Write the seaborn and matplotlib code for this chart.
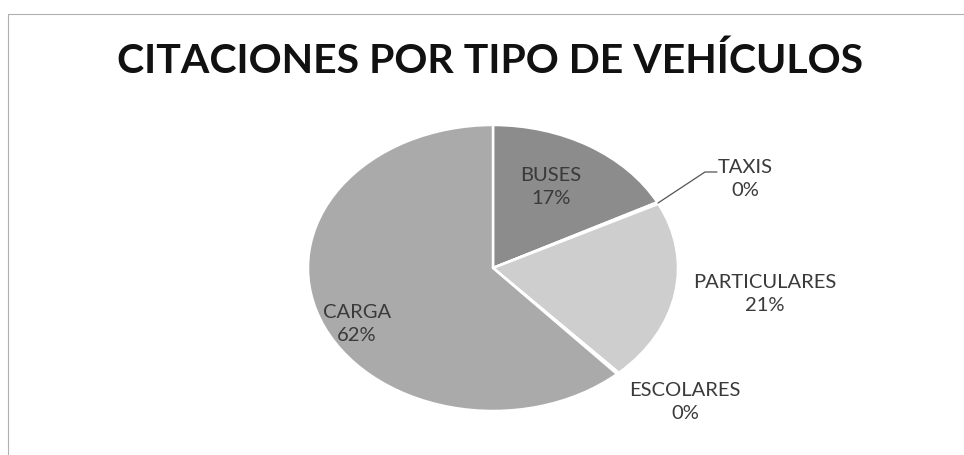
import matplotlib
matplotlib.use("Agg")
import matplotlib.pyplot as plt
import seaborn as sns

sns.set_theme(style="white")
plt.rcParams['font.family'] = ['Lato', 'DejaVu Sans']

categories = ["BUSES", "TAXIS", "PARTICULARES", "ESCOLARES", "CARGA"]
values = [17.4, 0.2, 20.5, 0.2, 61.7]
pct_labels = ["17%", "0%", "21%", "0%", "62%"]
colors = ["#8c8c8c", "#7a7a7a", "#cecece", "#b5b5b5", "#aaaaaa"]

W, H = 964, 455
fig = plt.figure(figsize=(W / 100, H / 100), dpi=100)
ax = fig.add_axes([0, 0, 1, 1])

cx, cy, rx, ry = 493, 268, 185, 143
ax.pie(values, colors=colors, startangle=90, counterclock=False,
       wedgeprops=dict(edgecolor="white", linewidth=1.8))
ax.set_aspect("auto")
ax.set_xlim(-cx / rx, (W - cx) / rx)
ax.set_ylim(-(H - cy) / ry, cy / ry)
ax.axis("off")

def d(px, py):
    return (px - cx) / rx, (cy - py) / ry

label_pos = {
    "BUSES": (551, 187),
    "TAXIS": (745, 179),
    "PARTICULARES": (765, 294),
    "ESCOLARES": (685, 402),
    "CARGA": (357, 324),
}
for cat, pct in zip(categories, pct_labels):
    x, y = d(*label_pos[cat])
    ax.text(x, y, f"{cat}\n{pct}", ha="center", va="center",
            fontsize=14.5, color="#3a3a3a", linespacing=1.45)

# leader line for TAXIS
p0 = d(658, 203); p1 = d(705, 172); p2 = d(717, 172)
ax.plot([p0[0], p1[0], p2[0]], [p0[1], p1[1], p2[1]], color="#555555", lw=0.9)

fig.text(490 / W, 1 - 61 / H, "CITACIONES POR TIPO DE VEHÍCULOS",
         ha="center", va="center", fontsize=29.5, fontweight="bold", color="#111111")

# chart border (top and left)
fig.add_artist(plt.Line2D([8 / W, 1], [1 - 14 / H, 1 - 14 / H], color="#b0b0b0", lw=0.8))
fig.add_artist(plt.Line2D([8 / W, 8 / W], [0, 1 - 14 / H], color="#b0b0b0", lw=0.8))

fig.savefig("out.png", dpi=100)
